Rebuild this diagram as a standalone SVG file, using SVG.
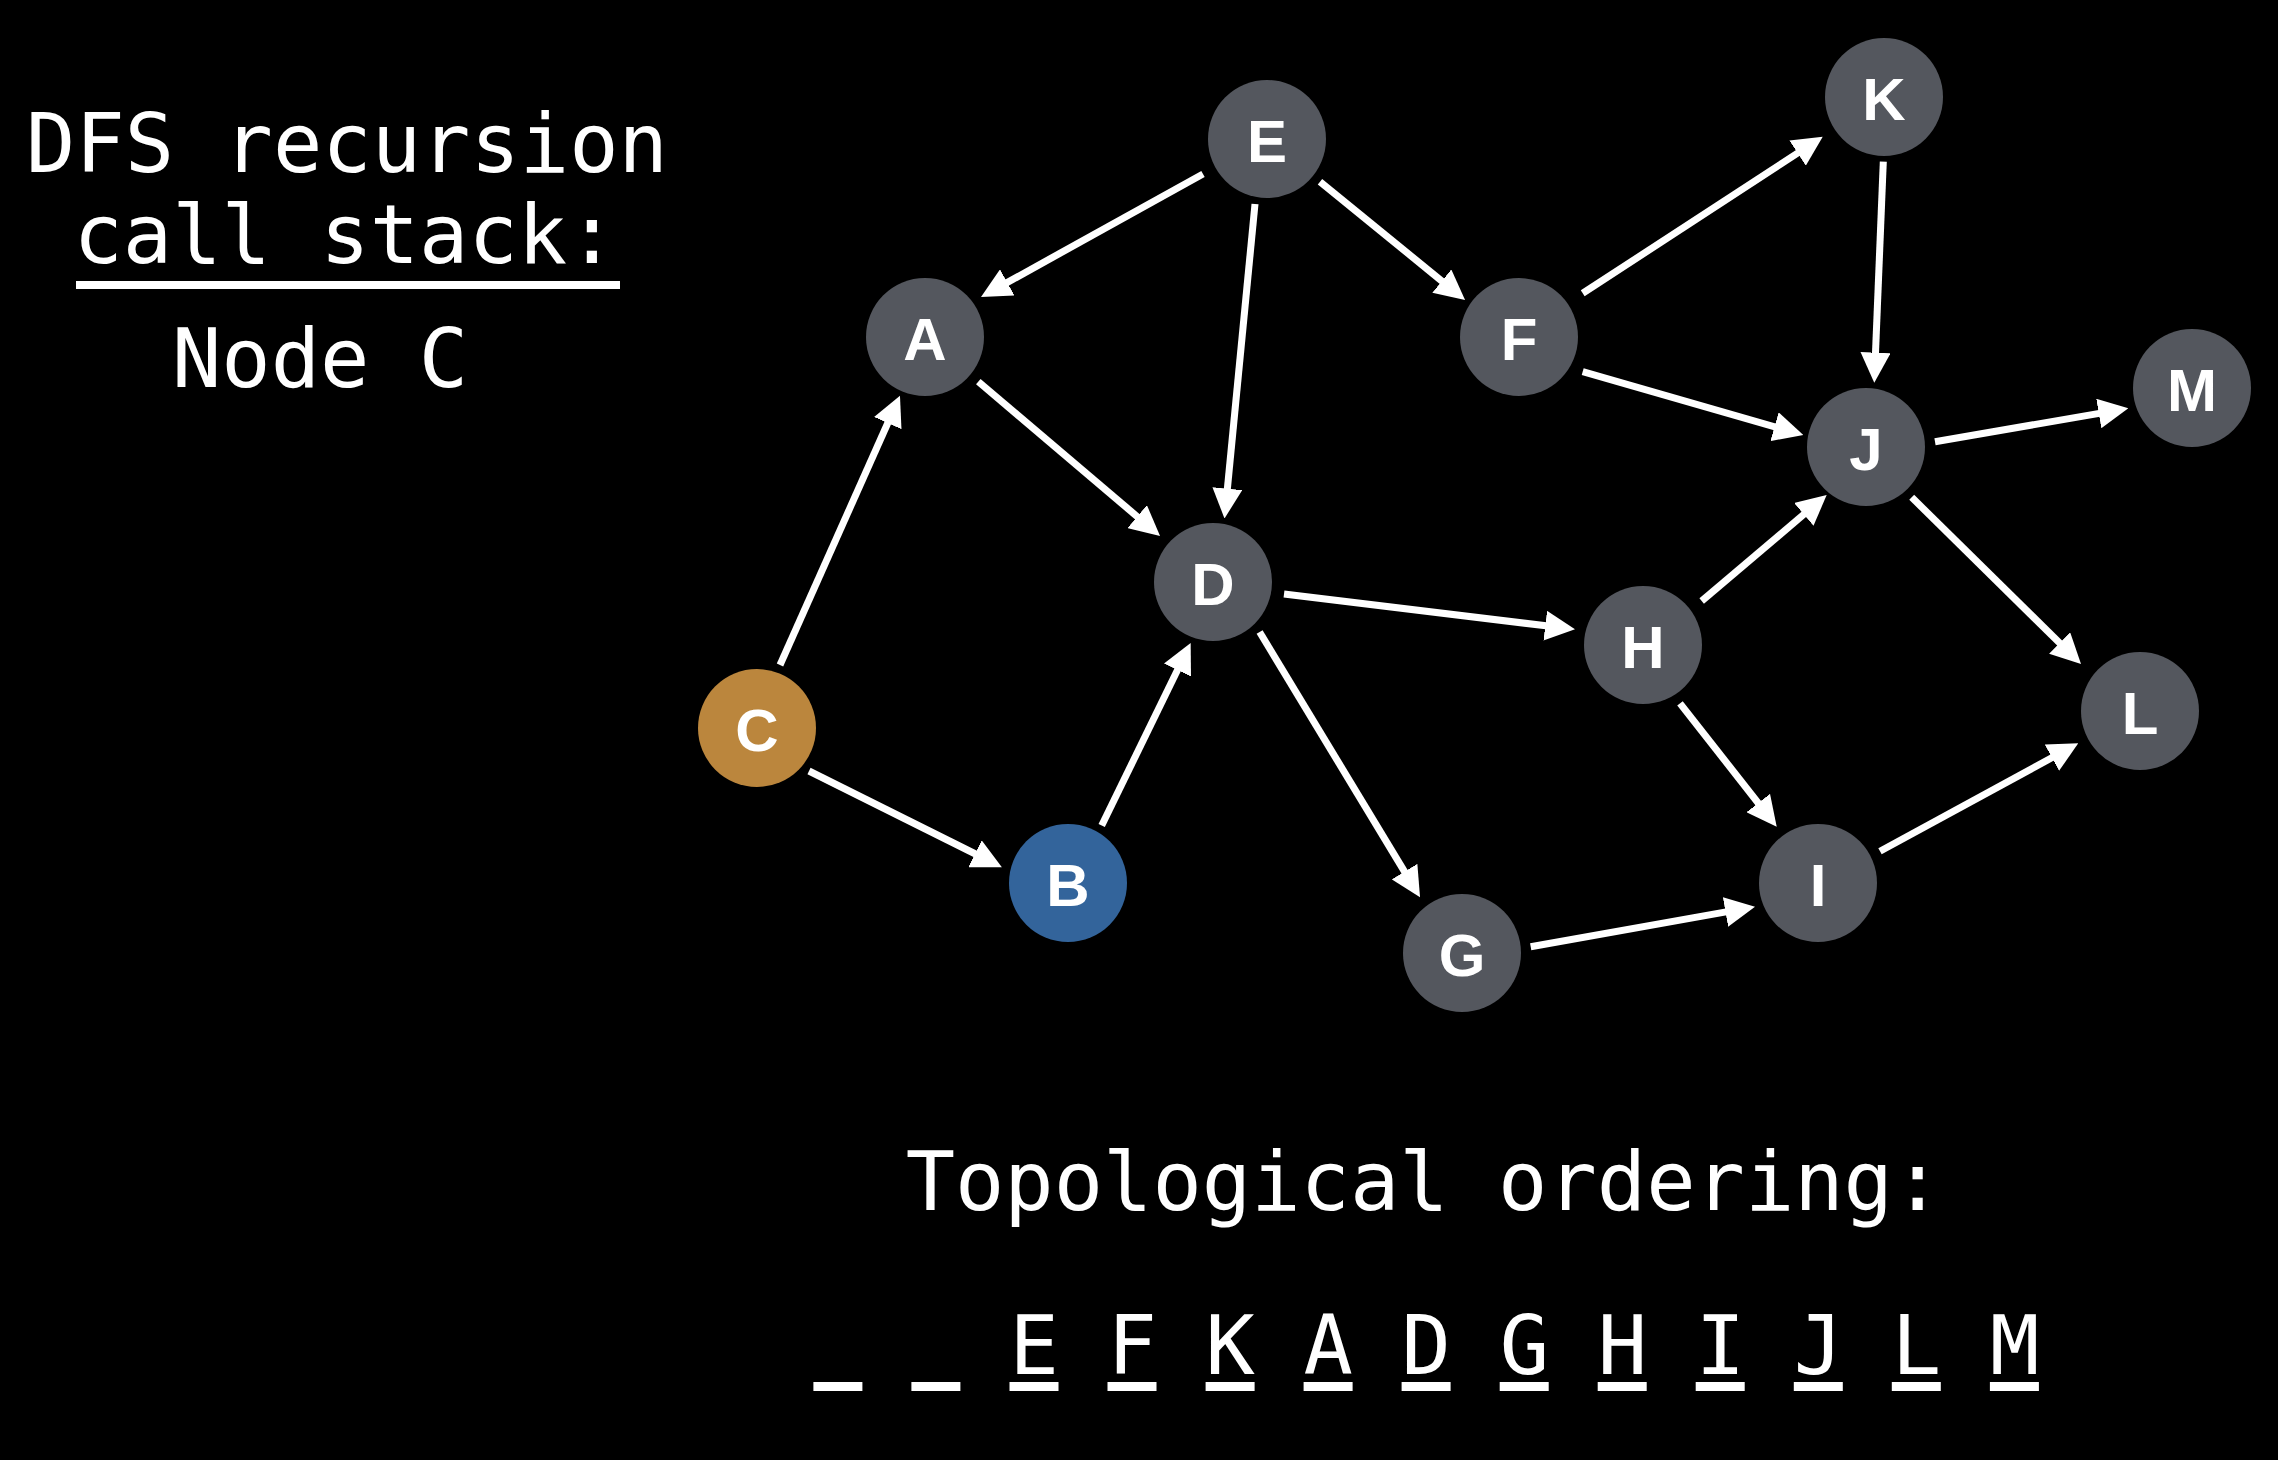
<svg xmlns="http://www.w3.org/2000/svg" width="2278" height="1460" viewBox="0 0 2278 1460">
<defs>
<style>
.node{fill:#54575e}
.lbl{font-family:"Liberation Sans",Arial,sans-serif;font-weight:bold;font-size:60px;fill:#ffffff;text-anchor:middle}
.mono{font-family:"DejaVu Sans Mono","Liberation Mono",monospace;font-size:82px;fill:#ffffff}
.edge{stroke:#ffffff;stroke-width:7;fill:none;marker-end:url(#arrow)}
.bar{fill:#ffffff}
</style>
<marker id="arrow" viewBox="0 0 30 30" refX="5" refY="15" markerWidth="30" markerHeight="30" markerUnits="userSpaceOnUse" orient="auto">
<path d="M0,0 L30,15 L0,30 Z" fill="#ffffff"/>
</marker>
</defs>
<rect x="0" y="0" width="2278" height="1460" fill="#000000"/>

<g id="stack-label">
<text class="mono" x="347" y="172" text-anchor="middle">DFS recursion</text>
<text class="mono" x="345" y="263" text-anchor="middle">call stack:</text>
<rect class="bar" x="76" y="281" width="544" height="8"/>
<text class="mono" x="320" y="387" text-anchor="middle">Node C</text>
</g>

<g id="connectors">
<line class="edge" x1="1203" y1="174" x2="1002.9" y2="284.9"/>
<line class="edge" x1="1255" y1="204" x2="1226.9" y2="493.6"/>
<line class="edge" x1="1320" y1="181.7" x2="1445.7" y2="284.2"/>
<line class="edge" x1="978.3" y1="381.7" x2="1141" y2="519.8"/>
<line class="edge" x1="780" y1="665" x2="889.8" y2="418.5"/>
<line class="edge" x1="809" y1="771" x2="979.5" y2="856"/>
<line class="edge" x1="1101.7" y1="825.5" x2="1179.7" y2="665.5"/>
<line class="edge" x1="1284" y1="594" x2="1550.2" y2="626.3"/>
<line class="edge" x1="1259.6" y1="632" x2="1407.1" y2="875.9"/>
<line class="edge" x1="1582.7" y1="293.3" x2="1801.8" y2="150.4"/>
<line class="edge" x1="1582.7" y1="371.7" x2="1779.3" y2="428.1"/>
<line class="edge" x1="1883.3" y1="161.7" x2="1875.3" y2="357.7"/>
<line class="edge" x1="1701.7" y1="601" x2="1807.6" y2="511.2"/>
<line class="edge" x1="1680" y1="703.3" x2="1761.3" y2="807"/>
<line class="edge" x1="1530.7" y1="946.7" x2="1730.4" y2="911.1"/>
<line class="edge" x1="1935" y1="441.7" x2="2103.7" y2="412.6"/>
<line class="edge" x1="1911.7" y1="497.3" x2="2063.2" y2="646.5"/>
<line class="edge" x1="1880" y1="851.3" x2="2056.3" y2="755.3"/>
</g>

<g id="node-A"><circle class="node" cx="925" cy="337" r="59"/><text class="lbl" x="925" y="360">A</text></g>
<g id="node-B"><circle cx="1068" cy="883" r="59" fill="#33649b"/><text class="lbl" x="1068" y="906">B</text></g>
<g id="node-C"><circle cx="757" cy="728" r="59" fill="#bb863d"/><text class="lbl" x="757" y="751">C</text></g>
<g id="node-D"><circle class="node" cx="1213" cy="582" r="59"/><text class="lbl" x="1213" y="605">D</text></g>
<g id="node-E"><circle class="node" cx="1267" cy="139" r="59"/><text class="lbl" x="1267" y="162">E</text></g>
<g id="node-F"><circle class="node" cx="1519" cy="337" r="59"/><text class="lbl" x="1519" y="360">F</text></g>
<g id="node-G"><circle class="node" cx="1462" cy="953" r="59"/><text class="lbl" x="1462" y="976">G</text></g>
<g id="node-H"><circle class="node" cx="1643" cy="645" r="59"/><text class="lbl" x="1643" y="668">H</text></g>
<g id="node-I"><circle class="node" cx="1818" cy="883" r="59"/><text class="lbl" x="1818" y="906">I</text></g>
<g id="node-J"><circle class="node" cx="1866" cy="447" r="59"/><text class="lbl" x="1866" y="470">J</text></g>
<g id="node-K"><circle class="node" cx="1884" cy="97" r="59"/><text class="lbl" x="1884" y="120">K</text></g>
<g id="node-L"><circle class="node" cx="2140" cy="711" r="59"/><text class="lbl" x="2140" y="734">L</text></g>
<g id="node-M"><circle class="node" cx="2192" cy="388" r="59"/><text class="lbl" x="2192" y="411">M</text></g>

<g id="ordering">
<text class="mono" x="1424" y="1210" text-anchor="middle">Topological ordering:</text>
<text class="mono" y="1374" x="1009.5 1058.5 1107.5 1156.5 1205.6 1254.6 1303.6 1352.6 1401.6 1450.7 1499.7 1548.7 1597.7 1646.7 1695.7 1744.8 1793.8 1842.8 1891.8 1940.9 1989.9">E F K A D G H I J L M</text>
<rect class="bar" x="813.4" y="1382" width="49" height="9"/>
<rect class="bar" x="911.4" y="1382" width="49" height="9"/>
<rect class="bar" x="1009.5" y="1382" width="49" height="9"/>
<rect class="bar" x="1107.5" y="1382" width="49" height="9"/>
<rect class="bar" x="1205.6" y="1382" width="49" height="9"/>
<rect class="bar" x="1303.6" y="1382" width="49" height="9"/>
<rect class="bar" x="1401.6" y="1382" width="49" height="9"/>
<rect class="bar" x="1499.7" y="1382" width="49" height="9"/>
<rect class="bar" x="1597.7" y="1382" width="49" height="9"/>
<rect class="bar" x="1695.7" y="1382" width="49" height="9"/>
<rect class="bar" x="1793.8" y="1382" width="49" height="9"/>
<rect class="bar" x="1891.8" y="1382" width="49" height="9"/>
<rect class="bar" x="1989.9" y="1382" width="49" height="9"/>
</g>
</svg>
